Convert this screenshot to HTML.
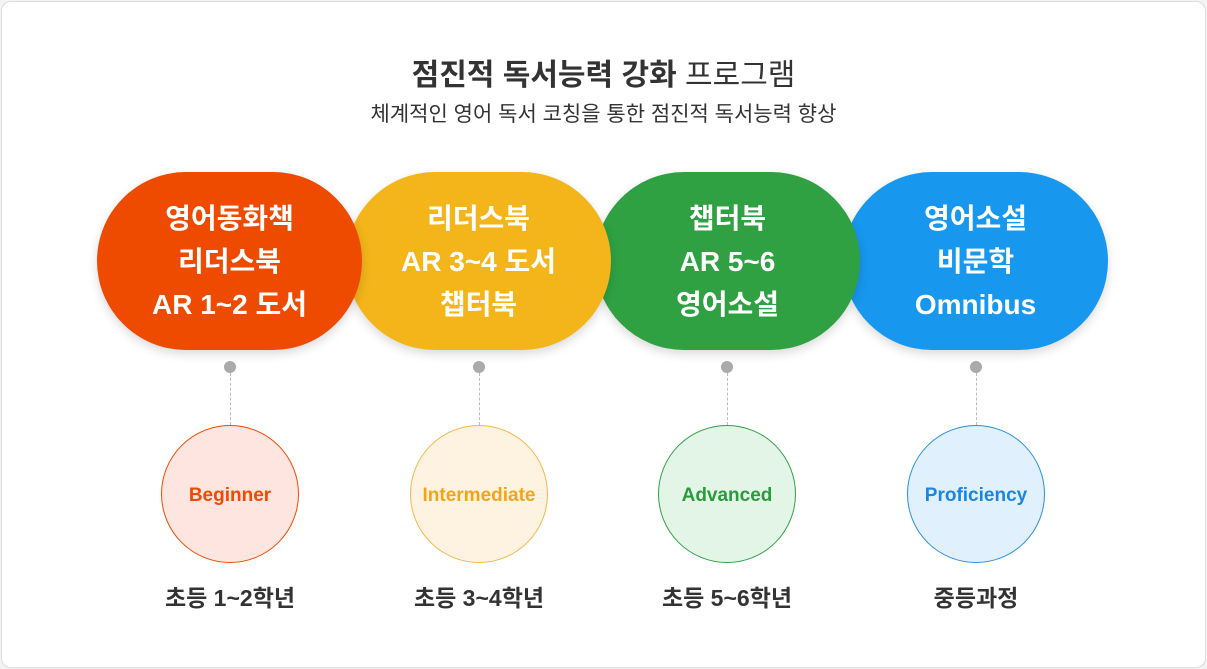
<!DOCTYPE html><html><head><meta charset="utf-8"><style>
body{margin:0;width:1207px;height:669px;background:#f3f3f3;font-family:"Liberation Sans","Noto Sans CJK KR",sans-serif;overflow:hidden}
.card{position:absolute;left:1px;top:1px;width:1203px;height:665px;background:#fff;border:1px solid #ddd;border-radius:10px}
.t{position:absolute;left:0;width:1207px;text-align:center;color:#333}
.pill{position:absolute;top:172px;width:265px;height:178px;border-radius:89px;color:#fff;font-weight:bold;font-size:28px;line-height:43px;display:flex;align-items:center;justify-content:center;text-align:center;box-shadow:0 4px 10px rgba(0,0,0,.15)}
.dot{position:absolute;top:361px;width:12px;height:12px;border-radius:50%;background:#aaa}
.ln{position:absolute;top:373px;height:52px;border-left:1px dashed #bbb}
.c{position:absolute;top:425px;width:138px;height:138px;border-radius:50%;border:1.5px solid;display:flex;align-items:center;justify-content:center;font-size:19px;font-weight:bold;box-sizing:border-box;padding-top:3px}
.g{position:absolute;top:579px;width:200px;text-align:center;font-size:23px;font-weight:bold;color:#333}
</style></head><body><div class="card"></div>
<div class="t" style="top:50px;font-size:30px;font-weight:bold">점진적 독서능력 강화 <span style="font-weight:normal">프로그램</span></div>
<div class="t" style="top:98px;font-size:21px">체계적인 영어 독서 코칭을 통한 점진적 독서능력 향상</div>
<div class="pill" style="left:97px;background:#EE4A00;z-index:4">영어동화책<br>리더스북<br>AR 1~2 도서</div>
<div class="pill" style="left:346px;background:#F3B51A;z-index:3">리더스북<br>AR 3~4 도서<br>챕터북</div>
<div class="pill" style="left:595px;background:#2FA143;z-index:2">챕터북<br>AR 5~6<br>영어소설</div>
<div class="pill" style="left:843px;background:#1797EE;z-index:1">영어소설<br>비문학<br>Omnibus</div>
<div class="dot" style="left:224px"></div><div class="ln" style="left:230px"></div>
<div class="dot" style="left:473px"></div><div class="ln" style="left:479px"></div>
<div class="dot" style="left:721px"></div><div class="ln" style="left:727px"></div>
<div class="dot" style="left:970px"></div><div class="ln" style="left:976px"></div>
<div class="c" style="left:161px;background:#FEE5DF;border-color:#EE4A00;color:#EE4A00">Beginner</div>
<div class="c" style="left:410px;background:#FEF3E0;border-color:#F8B54A;color:#F3A51A">Intermediate</div>
<div class="c" style="left:658px;background:#E3F5E6;border-color:#2FA143;color:#2A9A3C">Advanced</div>
<div class="c" style="left:907px;background:#E1F0FD;border-color:#2A8FDF;color:#1A86E0">Proficiency</div>
<div class="g" style="left:130px">초등 1~2학년</div>
<div class="g" style="left:379px">초등 3~4학년</div>
<div class="g" style="left:627px">초등 5~6학년</div>
<div class="g" style="left:876px">중등과정</div>
</body></html>
